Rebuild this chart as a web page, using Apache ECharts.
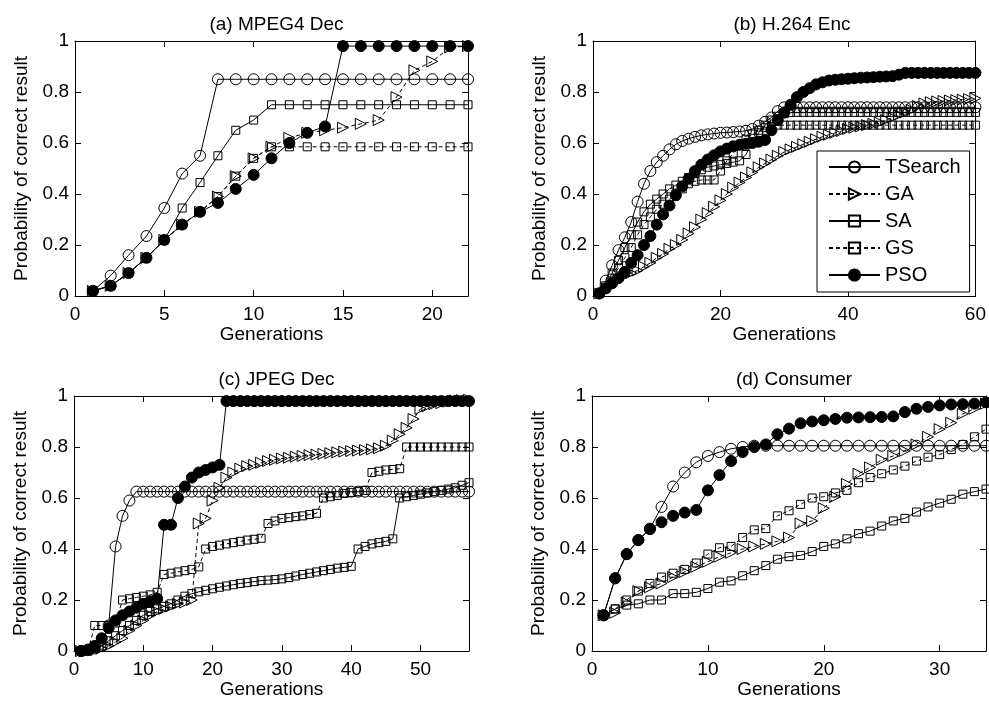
<!DOCTYPE html>
<html>
<head>
<meta charset="utf-8">
<script src="https://cdn.jsdelivr.net/npm/echarts@6/dist/echarts.min.js"></script>
<style>
html, body { margin: 0; padding: 0; background: #fff; }
#container { width: 989px; height: 704px; }
</style>
</head>
<body>
<div id="container"></div>
<script>
// algorithms, in legend order
var names = ['TSearch', 'GA', 'SA', 'GS', 'PSO'];
var titles = ['(a) MPEG4 Dec', '(b) H.264 Enc', '(c) JPEG Dec', '(d) Consumer'];
var xMax = [22, 60, 57, 34];
var xStep = [5, 20, 10, 10];

// (a) MPEG4 Dec, generations 1..22
var aTSearch = [0.02, 0.08, 0.16, 0.235, 0.345, 0.48, 0.55, 0.85, 0.85, 0.85, 0.85, 0.85, 0.85, 0.85, 0.85, 0.85, 0.85, 0.85, 0.85, 0.85, 0.85, 0.85];
var aGA = [0.02, 0.04, 0.09, 0.15, 0.22, 0.28, 0.33, 0.39, 0.47, 0.54, 0.585, 0.62, 0.64, 0.65, 0.66, 0.675, 0.69, 0.78, 0.885, 0.92, 0.975, 0.98];
var aSA = [0.02, 0.04, 0.09, 0.15, 0.22, 0.345, 0.445, 0.55, 0.65, 0.69, 0.75, 0.75, 0.75, 0.75, 0.75, 0.75, 0.75, 0.75, 0.75, 0.75, 0.75, 0.75];
var aGS = [0.02, 0.04, 0.09, 0.15, 0.22, 0.28, 0.33, 0.39, 0.47, 0.54, 0.585, 0.585, 0.585, 0.585, 0.585, 0.585, 0.585, 0.585, 0.585, 0.585, 0.585, 0.585];
var aPSO = [0.02, 0.04, 0.09, 0.15, 0.22, 0.28, 0.33, 0.365, 0.42, 0.475, 0.54, 0.6, 0.64, 0.665, 0.98, 0.98, 0.98, 0.98, 0.98, 0.98, 0.98, 0.98];

// (b) H.264 Enc, generations 1..60
var bTSearch = [0.01, 0.06, 0.12, 0.18, 0.23, 0.29, 0.37, 0.44, 0.49, 0.525,
    0.55, 0.575, 0.595, 0.608, 0.617, 0.624, 0.63, 0.634, 0.637, 0.64,
    0.641, 0.643, 0.645, 0.648, 0.655, 0.668, 0.683, 0.7, 0.725, 0.74,
    0.74, 0.74, 0.74, 0.74, 0.74, 0.74, 0.74, 0.74, 0.74, 0.74,
    0.74, 0.74, 0.74, 0.74, 0.74, 0.74, 0.74, 0.74, 0.74, 0.74,
    0.74, 0.74, 0.74, 0.74, 0.74, 0.74, 0.74, 0.74, 0.74, 0.74];
var bGA = [0.01, 0.03, 0.05, 0.065, 0.08, 0.09, 0.1, 0.115, 0.13, 0.15,
    0.165, 0.185, 0.2, 0.22, 0.245, 0.27, 0.3, 0.325, 0.35, 0.375,
    0.4, 0.425, 0.445, 0.465, 0.485, 0.505, 0.52, 0.535, 0.55, 0.565,
    0.575, 0.585, 0.595, 0.605, 0.615, 0.625, 0.632, 0.64, 0.647, 0.655,
    0.66, 0.665, 0.67, 0.675, 0.68, 0.69, 0.7, 0.71, 0.72, 0.73,
    0.745, 0.755, 0.76, 0.763, 0.765, 0.767, 0.768, 0.77, 0.772, 0.775];
var bSA = [0.01, 0.04, 0.09, 0.14, 0.19, 0.24, 0.29, 0.33, 0.36, 0.38,
    0.4, 0.42, 0.435, 0.45, 0.465, 0.48, 0.495, 0.505, 0.51, 0.515,
    0.52, 0.525, 0.53, 0.555, 0.6, 0.64, 0.67, 0.69, 0.705, 0.715,
    0.72, 0.72, 0.72, 0.72, 0.72, 0.72, 0.72, 0.72, 0.72, 0.72,
    0.72, 0.72, 0.72, 0.72, 0.72, 0.72, 0.72, 0.72, 0.72, 0.72,
    0.72, 0.72, 0.72, 0.72, 0.72, 0.72, 0.72, 0.72, 0.72, 0.72];
var bGS = [0.01, 0.03, 0.07, 0.11, 0.15, 0.19, 0.24, 0.28, 0.31, 0.34,
    0.36, 0.38, 0.4, 0.42, 0.44, 0.45, 0.455, 0.455, 0.455, 0.49,
    0.53, 0.56, 0.59, 0.615, 0.635, 0.65, 0.66, 0.665, 0.67, 0.67,
    0.67, 0.67, 0.67, 0.67, 0.67, 0.67, 0.67, 0.67, 0.67, 0.67,
    0.67, 0.67, 0.67, 0.67, 0.67, 0.67, 0.67, 0.67, 0.67, 0.67,
    0.67, 0.67, 0.67, 0.67, 0.67, 0.67, 0.67, 0.67, 0.67, 0.67];
var bPSO = [0.01, 0.03, 0.05, 0.07, 0.095, 0.13, 0.16, 0.2, 0.235, 0.28,
    0.32, 0.355, 0.395, 0.43, 0.46, 0.49, 0.515, 0.535, 0.552, 0.567,
    0.578, 0.587, 0.593, 0.597, 0.6, 0.605, 0.612, 0.65, 0.69, 0.72,
    0.75, 0.78, 0.8, 0.815, 0.83, 0.838, 0.845, 0.848, 0.85, 0.852,
    0.854, 0.856, 0.857, 0.858, 0.86, 0.861, 0.862, 0.868, 0.875, 0.875,
    0.875, 0.875, 0.875, 0.875, 0.875, 0.875, 0.875, 0.875, 0.875, 0.875];

// (c) JPEG Dec, generations 1..57
var cTSearch = [0, 0.005, 0.01, 0.02, 0.1, 0.41, 0.53, 0.59, 0.625, 0.625,
    0.625, 0.625, 0.625, 0.625, 0.625, 0.625, 0.625, 0.625, 0.625, 0.625,
    0.625, 0.625, 0.625, 0.625, 0.625, 0.625, 0.625, 0.625, 0.625, 0.625,
    0.625, 0.625, 0.625, 0.625, 0.625, 0.625, 0.625, 0.625, 0.625, 0.625,
    0.625, 0.625, 0.625, 0.625, 0.625, 0.625, 0.625, 0.625, 0.625, 0.625,
    0.625, 0.625, 0.625, 0.625, 0.625, 0.625, 0.625];
var cGA = [0, 0, 0.005, 0.01, 0.02, 0.035, 0.05, 0.08, 0.1, 0.12,
    0.14, 0.155, 0.165, 0.175, 0.185, 0.19, 0.2, 0.5, 0.52, 0.59,
    0.64, 0.68, 0.7, 0.715, 0.725, 0.73, 0.738, 0.745, 0.75, 0.755,
    0.758, 0.762, 0.765, 0.768, 0.77, 0.773, 0.776, 0.779, 0.782, 0.784,
    0.786, 0.788, 0.791, 0.795, 0.805, 0.825, 0.85, 0.875, 0.91, 0.95,
    0.96, 0.968, 0.972, 0.978, 0.982, 0.984, 0.985];
var cSA = [0, 0, 0.01, 0.02, 0.04, 0.06, 0.08, 0.1, 0.12, 0.14,
    0.155, 0.165, 0.175, 0.185, 0.2, 0.215, 0.225, 0.232, 0.238, 0.244,
    0.25, 0.255, 0.26, 0.265, 0.268, 0.272, 0.276, 0.278, 0.28, 0.283,
    0.288, 0.294, 0.3, 0.305, 0.31, 0.315, 0.32, 0.325, 0.328, 0.332,
    0.4, 0.41, 0.42, 0.425, 0.43, 0.44, 0.6, 0.605, 0.61, 0.615,
    0.62, 0.625, 0.63, 0.635, 0.64, 0.65, 0.66];
var cGS = [0, 0, 0.1, 0.1, 0.1, 0.11, 0.2, 0.205, 0.21, 0.215,
    0.22, 0.23, 0.3, 0.305, 0.31, 0.315, 0.32, 0.33, 0.4, 0.41,
    0.415, 0.42, 0.425, 0.43, 0.435, 0.438, 0.442, 0.5, 0.51, 0.52,
    0.523, 0.527, 0.53, 0.535, 0.54, 0.6, 0.605, 0.61, 0.618, 0.622,
    0.625, 0.63, 0.7, 0.705, 0.71, 0.712, 0.715, 0.8, 0.8, 0.8,
    0.8, 0.8, 0.8, 0.8, 0.8, 0.8, 0.8];
var cPSO = [0, 0.005, 0.02, 0.05, 0.09, 0.12, 0.14, 0.155, 0.17, 0.185,
    0.195, 0.205, 0.495, 0.495, 0.6, 0.645, 0.68, 0.7, 0.71, 0.72,
    0.73, 0.98, 0.98, 0.98, 0.98, 0.98, 0.98, 0.98, 0.98, 0.98,
    0.98, 0.98, 0.98, 0.98, 0.98, 0.98, 0.98, 0.98, 0.98, 0.98,
    0.98, 0.98, 0.98, 0.98, 0.98, 0.98, 0.98, 0.98, 0.98, 0.98,
    0.98, 0.98, 0.98, 0.98, 0.98, 0.98, 0.98];

// (d) Consumer, generations 1..34
var dTSearch = [0.14, 0.285, 0.38, 0.435, 0.48, 0.565, 0.645, 0.7, 0.74, 0.765,
    0.78, 0.793, 0.8, 0.805, 0.805, 0.805, 0.805, 0.805, 0.805, 0.805,
    0.805, 0.805, 0.805, 0.805, 0.805, 0.805, 0.805, 0.805, 0.805, 0.805,
    0.805, 0.805, 0.805, 0.805];
var dGA = [0.14, 0.15, 0.19, 0.235, 0.25, 0.265, 0.29, 0.31, 0.33, 0.35,
    0.37, 0.385, 0.4, 0.41, 0.42, 0.43, 0.445, 0.5, 0.51, 0.56,
    0.605, 0.655, 0.695, 0.72, 0.75, 0.765, 0.785, 0.81, 0.84, 0.87,
    0.895, 0.93, 0.95, 0.97];
var dSA = [0.14, 0.165, 0.18, 0.185, 0.2, 0.2, 0.225, 0.225, 0.23, 0.245,
    0.27, 0.275, 0.295, 0.315, 0.335, 0.36, 0.37, 0.375, 0.39, 0.41,
    0.42, 0.44, 0.46, 0.47, 0.49, 0.51, 0.52, 0.545, 0.565, 0.58,
    0.595, 0.615, 0.625, 0.635];
var dGS = [0.14, 0.165, 0.2, 0.235, 0.265, 0.29, 0.305, 0.32, 0.345, 0.38,
    0.405, 0.41, 0.445, 0.475, 0.48, 0.53, 0.55, 0.575, 0.6, 0.605,
    0.62, 0.63, 0.66, 0.68, 0.695, 0.71, 0.725, 0.745, 0.76, 0.77,
    0.79, 0.81, 0.84, 0.87];
var dPSO = [0.14, 0.285, 0.38, 0.435, 0.478, 0.505, 0.53, 0.543, 0.553, 0.63,
    0.69, 0.745, 0.78, 0.8, 0.81, 0.85, 0.872, 0.893, 0.9, 0.905,
    0.91, 0.915, 0.916, 0.917, 0.918, 0.92, 0.937, 0.95, 0.957, 0.963,
    0.967, 0.968, 0.97, 0.975];

var panels = [
    [aTSearch, aGA, aSA, aGS, aPSO],
    [bTSearch, bGA, bSA, bGS, bPSO],
    [cTSearch, cGA, cSA, cGS, cPSO],
    [dTSearch, dGA, dSA, dGS, dPSO]
];

var font = 'Liberation Sans, Arial, Helvetica, sans-serif';

// plot boxes, in pixels
var boxes = [
    { left: 75, top: 41, width: 393, height: 255 },
    { left: 593, top: 41, width: 388, height: 255 },
    { left: 74, top: 396, width: 395, height: 255 },
    { left: 592, top: 396, width: 394, height: 255 }
];

// marker look for each algorithm
function markerOf(name) {
    var hollow = 'rgba(0,0,0,0)';
    if (name == 'TSearch') return { symbol: 'circle', size: 11, rotate: 0, fill: hollow, dash: 'solid' };
    if (name == 'GA') return { symbol: 'triangle', size: 11, rotate: -90, fill: hollow, dash: [4, 3] };
    if (name == 'SA') return { symbol: 'rect', size: 8, rotate: 0, fill: hollow, dash: 'solid' };
    if (name == 'GS') return { symbol: 'rect', size: 8, rotate: 0, fill: hollow, dash: [4, 3] };
    return { symbol: 'circle', size: 11, rotate: 0, fill: '#000', dash: 'solid' };
}

var grid = [], xAxis = [], yAxis = [], series = [], title = [];

for (var p = 0; p < 4; p++) {
    var b = boxes[p];
    grid.push({ left: b.left, top: b.top, width: b.width, height: b.height, containLabel: false });

    title.push({
        text: titles[p],
        left: b.left + b.width / 2,
        top: b.top - 31,
        textAlign: 'center',
        textStyle: { fontFamily: font, fontSize: 19, fontWeight: 'normal', color: '#000' }
    });

    (function(step) {
        xAxis.push({
            type: 'value', gridIndex: p, position: 'bottom',
            min: 0, max: xMax[p], interval: step,
            name: 'Generations', nameLocation: 'middle', nameGap: 27,
            nameTextStyle: { fontFamily: font, fontSize: 19, color: '#000' },
            axisLine: { show: true, onZero: false, lineStyle: { color: '#000', width: 1 } },
            axisTick: { show: true, inside: true, length: 6, lineStyle: { color: '#000' } },
            axisLabel: {
                margin: 9, fontFamily: font, fontSize: 19, color: '#000',
                formatter: function(v) { return v % step === 0 ? String(v) : ''; }
            },
            splitLine: { show: false }
        });
    })(xStep[p]);
    xAxis.push({
        type: 'value', gridIndex: p, position: 'top',
        min: 0, max: xMax[p], interval: xStep[p],
        axisLine: { show: true, onZero: false, lineStyle: { color: '#000', width: 1 } },
        axisTick: { show: true, inside: true, length: 6, lineStyle: { color: '#000' } },
        axisLabel: { show: false },
        splitLine: { show: false }
    });

    yAxis.push({
        type: 'value', gridIndex: p, position: 'left',
        min: 0, max: 1, interval: 0.2,
        name: 'Probability of correct result', nameLocation: 'middle', nameGap: 44,
        nameTextStyle: { fontFamily: font, fontSize: 19, color: '#000' },
        axisLine: { show: true, onZero: false, lineStyle: { color: '#000', width: 1 } },
        axisTick: { show: true, inside: true, length: 6, lineStyle: { color: '#000' } },
        axisLabel: { margin: 6, fontFamily: font, fontSize: 19, color: '#000' },
        splitLine: { show: false }
    });
    yAxis.push({
        type: 'value', gridIndex: p, position: 'right',
        min: 0, max: 1, interval: 0.2,
        axisLine: { show: true, onZero: false, lineStyle: { color: '#000', width: 1 } },
        axisTick: { show: true, inside: true, length: 6, lineStyle: { color: '#000' } },
        axisLabel: { show: false },
        splitLine: { show: false }
    });

    for (var k = 0; k < names.length; k++) {
        var vals = panels[p][k];
        var pts = [];
        for (var i = 0; i < vals.length; i++) {
            pts.push([i + 1, vals[i]]);
        }
        var m = markerOf(names[k]);
        series.push({
            type: 'line',
            name: names[k],
            xAxisIndex: p * 2,
            yAxisIndex: p * 2,
            data: pts,
            symbol: m.symbol,
            symbolSize: m.size,
            symbolRotate: m.rotate,
            showSymbol: true,
            showAllSymbol: true,
            clip: false,
            silent: true,
            animation: false,
            lineStyle: { color: '#000', width: 1, type: m.dash },
            itemStyle: { color: m.fill, borderColor: '#000', borderWidth: 1 },
            emphasis: { disabled: true }
        });
    }
}

var myChart = echarts.init(document.getElementById('container'), null, { renderer: 'canvas' });
myChart.setOption({
    backgroundColor: '#fff',
    animation: false,
    title: title,
    legend: {
        data: names,
        orient: 'vertical',
        left: 817,
        top: 151,
        padding: [6, 9, 7, 11],
        itemWidth: 51,
        itemHeight: 14,
        itemGap: 7,
        backgroundColor: '#fff',
        borderColor: '#000',
        borderWidth: 1,
        borderRadius: 0,
        selectedMode: false,
        textStyle: { fontFamily: font, fontSize: 20, color: '#000' }
    },
    grid: grid,
    xAxis: xAxis,
    yAxis: yAxis,
    series: series
});
</script>
</body>
</html>
